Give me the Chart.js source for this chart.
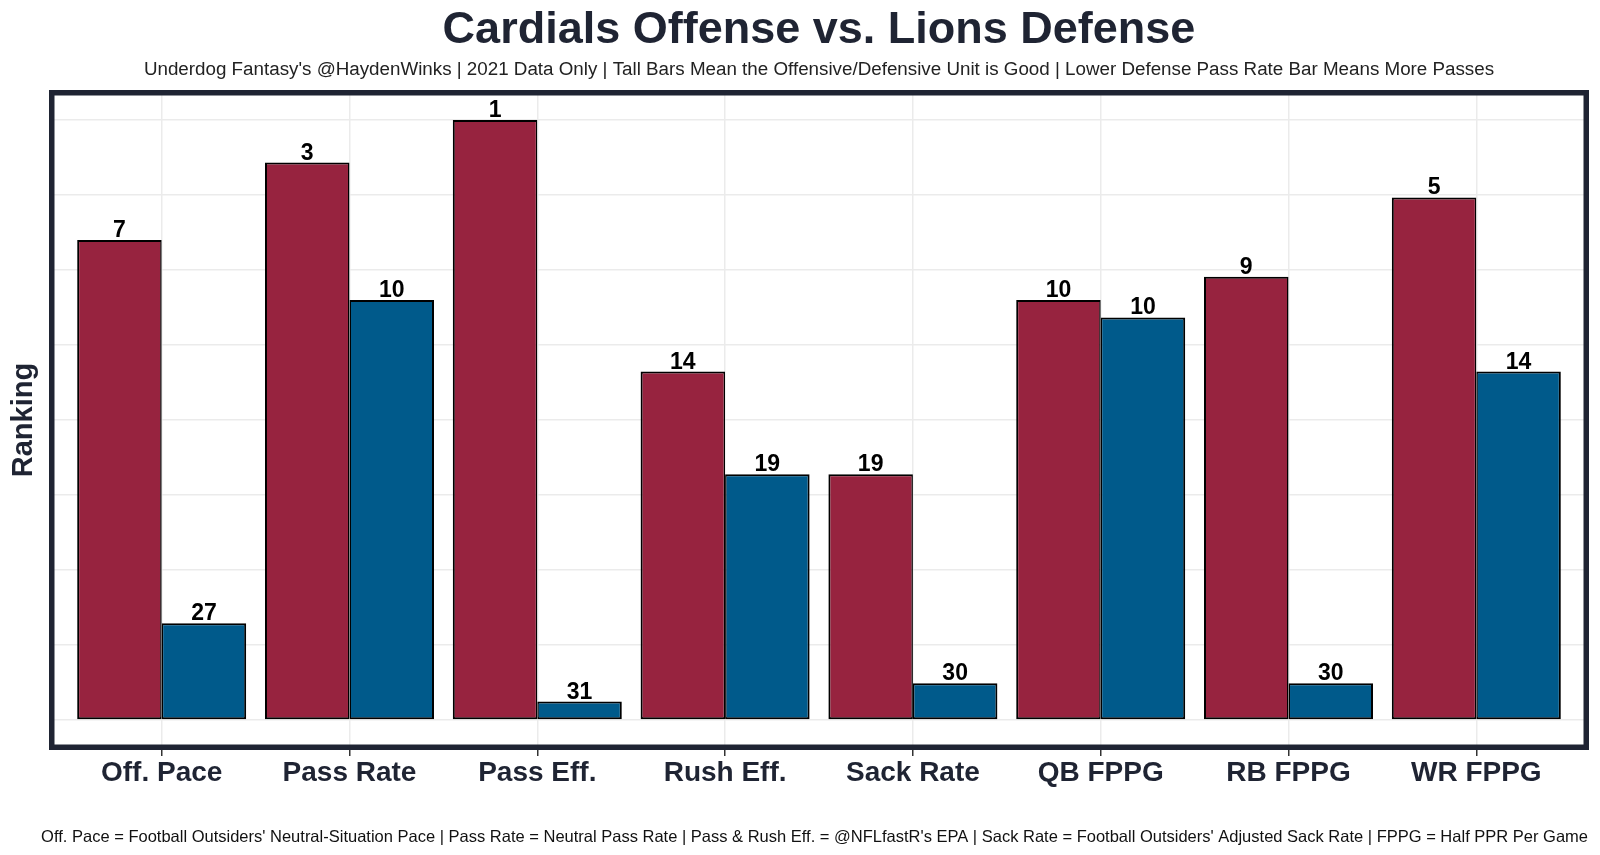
<!DOCTYPE html>
<html>
<head>
<meta charset="utf-8">
<title>Cardials Offense vs. Lions Defense</title>
<script src="https://cdn.jsdelivr.net/npm/chart.js@4/dist/chart.umd.min.js"></script>
<style>
  html, body { margin: 0; padding: 0; background: #fff; }
  #chart { display: block; }
</style>
</head>
<body>
<canvas id="chart" width="1600" height="855"></canvas>
<script>
const categories = ['Off. Pace', 'Pass Rate', 'Pass Eff.', 'Rush Eff.', 'Sack Rate', 'QB FPPG', 'RB FPPG', 'WR FPPG'];

// rank labels printed above the bars
const offenseRanks = [7, 3, 1, 14, 19, 10, 9, 5];
const defenseRanks = [27, 10, 31, 19, 30, 10, 30, 14];

// bar heights (tall = good unit)
const offenseBars = [24.8, 28.8, 31, 18, 12.7, 21.7, 22.9, 27];
const defenseBars = [5, 21.7, 0.95, 12.7, 1.9, 20.8, 1.9, 18];

// horizontal grid line positions
const yGrid = [0, 3.875, 7.75, 11.625, 15.5, 19.375, 23.25, 27.125, 31];

const FONT = '"Liberation Sans", Arial, Helvetica, sans-serif';
const NAVY = '#1f2433';

const titleText = 'Cardials Offense vs. Lions Defense';
const subtitleText = "Underdog Fantasy's @HaydenWinks | 2021 Data Only | Tall Bars Mean the Offensive/Defensive Unit is Good | Lower Defense Pass Rate Bar Means More Passes";
const captionText = "Off. Pace = Football Outsiders' Neutral-Situation Pace | Pass Rate = Neutral Pass Rate | Pass & Rush Eff. = @NFLfastR's EPA | Sack Rate = Football Outsiders' Adjusted Sack Rate | FPPG = Half PPR Per Game";

const decorPlugin = {
    id: 'decor',
    afterDatasetsDraw(chart) {
        const ctx = chart.ctx;
        ctx.save();
        ctx.font = 'bold 23px ' + FONT;
        ctx.fillStyle = '#000';
        ctx.textAlign = 'center';
        ctx.textBaseline = 'alphabetic';
        const rankSets = [offenseRanks, defenseRanks];
        chart.data.datasets.forEach((ds, di) => {
            chart.getDatasetMeta(di).data.forEach((bar, i) => {
                ctx.fillText(String(rankSets[di][i]), bar.x, bar.y - 3);
            });
        });
        ctx.restore();
    },
    afterDraw(chart) {
        const ctx = chart.ctx;
        const area = chart.chartArea;
        const cx = (area.left + area.right) / 2;
        ctx.save();

        // panel border
        ctx.strokeStyle = NAVY;
        ctx.lineWidth = 5.5;
        ctx.strokeRect(area.left + 2.75, area.top + 2.75, area.right - area.left - 5.5, area.bottom - area.top - 5.5);

        // title + subtitle
        ctx.textAlign = 'center';
        ctx.textBaseline = 'alphabetic';
        ctx.fillStyle = NAVY;
        ctx.font = 'bold 45px ' + FONT;
        ctx.fillText(titleText, cx, 43);
        ctx.fillStyle = '#222';
        ctx.font = '18.8px ' + FONT;
        ctx.fillText(subtitleText, cx, 75);

        // caption, right aligned to the panel
        ctx.textAlign = 'right';
        ctx.fillStyle = '#111';
        ctx.font = '16.5px ' + FONT;
        ctx.fillText(captionText, area.right - 1, 842);

        // y axis title
        ctx.translate(31.5, (area.top + area.bottom) / 2);
        ctx.rotate(-Math.PI / 2);
        ctx.textAlign = 'center';
        ctx.fillStyle = NAVY;
        ctx.font = 'bold 29px ' + FONT;
        ctx.fillText('Ranking', 0, 0);
        ctx.restore();
    }
};

const ctx = document.getElementById('chart');

new Chart(ctx, {
    type: 'bar',
    data: {
        datasets: [{
            label: 'Cardinals Offense',
            data: categories.map((c, i) => ({ x: i, y: offenseBars[i] })),
            backgroundColor: '#97233f',
            borderColor: '#000',
            borderWidth: { top: 2, left: 2, bottom: 2, right: 1.5 },
            borderSkipped: false
        }, {
            label: 'Lions Defense',
            data: categories.map((c, i) => ({ x: i, y: defenseBars[i] })),
            backgroundColor: '#005a8b',
            borderColor: '#000',
            borderWidth: { top: 2, left: 1.5, bottom: 2, right: 2 },
            borderSkipped: false
        }]
    },
    options: {
        responsive: false,
        animation: false,
        devicePixelRatio: 1,
        layout: { padding: { top: 90, left: 49, right: 11, bottom: 0 } },
        datasets: {
            bar: { categoryPercentage: 0.9, barPercentage: 1.0 }
        },
        scales: {
            x: {
                type: 'linear',
                min: -0.6,
                max: 7.6,
                offset: false,
                afterBuildTicks: scale => {
                    scale.ticks = categories.map((c, i) => ({ value: i }));
                },
                afterFit: scale => { scale.height = 105; },
                ticks: {
                    callback: v => categories[v],
                    color: NAVY,
                    font: { family: FONT, size: 28, weight: 'bold' },
                    padding: 0,
                    maxRotation: 0,
                    autoSkip: false
                },
                grid: {
                    offset: false,
                    color: '#ebebeb',
                    lineWidth: 1.5,
                    drawTicks: true,
                    tickLength: 6,
                    tickColor: '#333',
                    tickWidth: 1.5
                },
                border: { display: false }
            },
            y: {
                min: -1.55,
                max: 32.55,
                afterBuildTicks: scale => {
                    scale.ticks = yGrid.map(v => ({ value: v }));
                },
                afterFit: scale => { scale.width = 0; },
                ticks: { display: false },
                grid: { color: '#ebebeb', lineWidth: 1.5, drawTicks: false },
                border: { display: false }
            }
        },
        plugins: {
            legend: { display: false },
            tooltip: { enabled: false }
        }
    },
    plugins: [decorPlugin]
});
</script>
</body>
</html>
